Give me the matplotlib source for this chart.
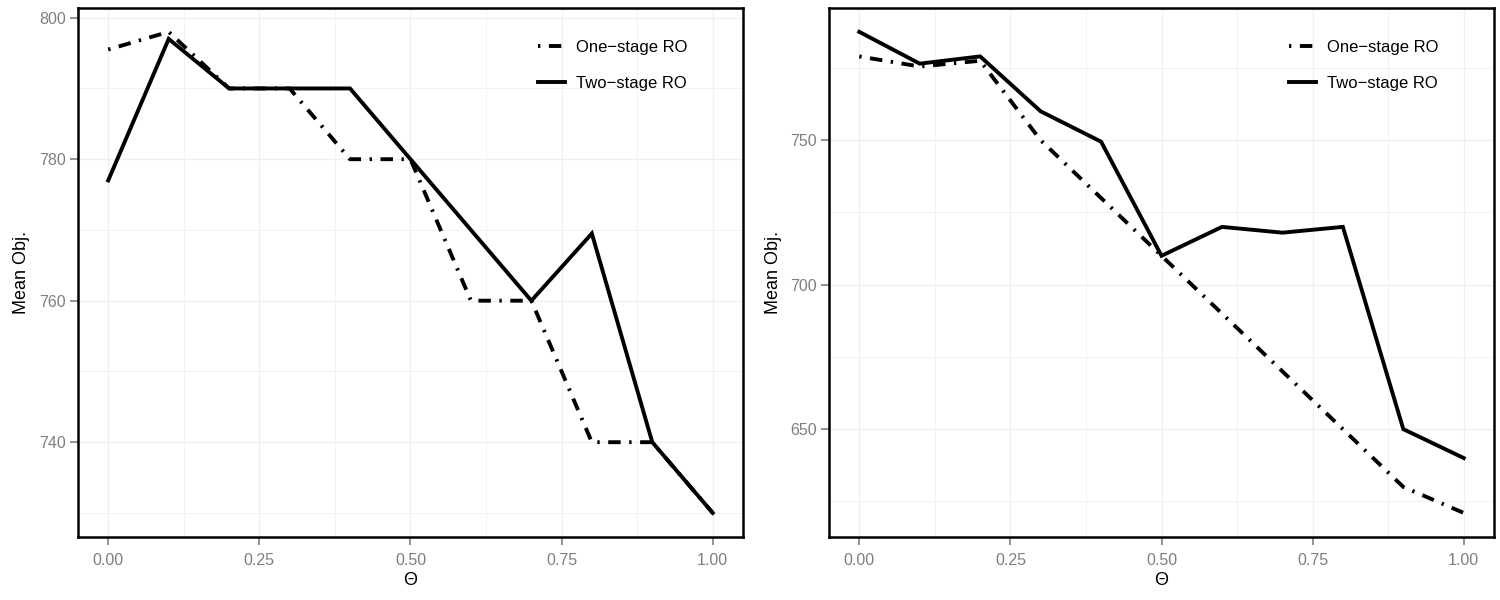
import numpy as np
import matplotlib
matplotlib.use("Agg")
import matplotlib.pyplot as plt
from matplotlib.ticker import FixedLocator

# ---------------------------------------------------------------------------
# Dati
# ---------------------------------------------------------------------------
theta = [0.0, 0.1, 0.2, 0.3, 0.4, 0.5, 0.6, 0.7, 0.8, 0.9, 1.0]

left_one = [795.5, 798, 790, 790, 780, 780, 760, 760, 740, 740, 730]
left_two = [777, 797, 790, 790, 790, 780, 770, 760, 769.5, 740, 730]
left_yticks = [740, 760, 780, 800]
left_yminor = [730, 750, 770, 790]

right_one = [779, 775.5, 777.5, 750, 730, 710, 690, 670, 650, 630, 621]
right_two = [787.5, 776.5, 779, 760, 749.5, 710, 720, 718, 720, 650, 640]
right_yticks = [650, 700, 750]
right_yminor = [625, 675, 725, 775]

xticks = [0.0, 0.25, 0.5, 0.75, 1.0]
xticklabels = ["0.00", "0.25", "0.50", "0.75", "1.00"]
xminor = [0.125, 0.375, 0.625, 0.875]

LABEL_ONE = "One\u2212stage RO"
LABEL_TWO = "Two\u2212stage RO"

# ---------------------------------------------------------------------------
# Stile
# ---------------------------------------------------------------------------
plt.rcParams.update({
    "font.family": ["Liberation Sans", "DejaVu Sans"],
    "font.size": 11,
})

TICK_GREY = "#7f7f7f"
GRID_GREY = "#f0f0f0"
LW = 2.8
DOTDASH = (0.6, 2.2, 3.2, 2.2)

fig = plt.figure(figsize=(15, 6), dpi=100)
ax_l = fig.add_axes([0.052, 0.105, 0.4433, 0.882])
ax_r = fig.add_axes([0.5527, 0.105, 0.4433, 0.882])


def style_axes(ax, one, two, yticks, minor_y):
    ax.plot(theta, one, color="black", lw=LW, dashes=DOTDASH,
            solid_joinstyle="miter", label=LABEL_ONE, zorder=3)
    ax.plot(theta, two, color="black", lw=LW, solid_joinstyle="miter",
            label=LABEL_TWO, zorder=3)

    lo = min(min(one), min(two))
    hi = max(max(one), max(two))
    pad = 0.05 * (hi - lo)
    ax.set_ylim(lo - pad, hi + pad)
    ax.set_xlim(-0.05, 1.05)

    ax.set_xticks(xticks)
    ax.set_xticklabels(xticklabels)
    ax.set_yticks(yticks)
    ax.xaxis.set_minor_locator(FixedLocator(xminor))
    ax.yaxis.set_minor_locator(FixedLocator(minor_y))

    ax.grid(True, which="major", color=GRID_GREY, lw=1.0, zorder=0)
    ax.grid(True, which="minor", color=GRID_GREY, lw=0.6, zorder=0)
    ax.set_axisbelow(True)

    ax.tick_params(which="major", direction="out", length=5.5, width=1.2,
                   color=TICK_GREY, labelcolor=TICK_GREY, labelsize=11.5)
    ax.tick_params(axis="x", which="major", pad=6)
    ax.tick_params(which="minor", length=0)
    for sp in ax.spines.values():
        sp.set_linewidth(1.8)
        sp.set_color("black")

    ax.set_xlabel("\u0398", fontsize=13, labelpad=3)
    ax.set_ylabel("Mean Obj.", fontsize=13, labelpad=6)

    leg = ax.legend(loc="upper left", bbox_to_anchor=(0.692, 0.94),
                    frameon=False, fontsize=12, handlelength=1.6,
                    labelspacing=1.3, handletextpad=0.65,
                    borderpad=0, borderaxespad=0)
    return leg


style_axes(ax_l, left_one, left_two, left_yticks, left_yminor)
style_axes(ax_r, right_one, right_two, right_yticks, right_yminor)

fig.savefig("out.png", dpi=100)
plt.close(fig)
